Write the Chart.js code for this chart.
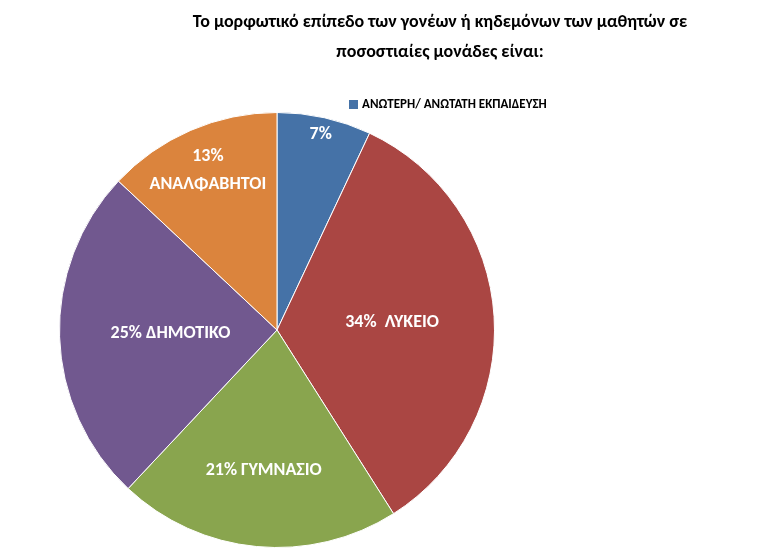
<!DOCTYPE html>
<html>
<head>
<meta charset="utf-8">
<script src="https://cdn.jsdelivr.net/npm/chart.js@4"></script>
<style>
  body { margin: 0; background: #fff; }
  #wrap { width: 781px; height: 550px; }
</style>
</head>
<body>
<div id="wrap"><canvas id="chart"></canvas></div>
<script>
const titleLines = [
  "Το μορφωτικό επίπεδο των γονέων ή κηδεμόνων των μαθητών σε",
  "ποσοστιαίες μονάδες είναι:"
];
const categories = ["ΑΝΩΤΕΡΗ/ ΑΝΩΤΑΤΗ ΕΚΠΑΙΔΕΥΣΗ", "ΛΥΚΕΙΟ", "ΓΥΜΝΑΣΙΟ", "ΔΗΜΟΤΙΚΟ", "ΑΝΑΛΦΑΒΗΤΟΙ"];
const values = [7, 34, 21, 25, 13];
const sliceLabels = [["7%"], ["34%  ΛΥΚΕΙΟ"], ["21% ΓΥΜΝΑΣΙΟ"], ["25% ΔΗΜΟΤΙΚΟ"], ["13%", "ΑΝΑΛΦΑΒΗΤΟΙ"]];
const colors = ["#4572A7", "#AA4643", "#89A54E", "#71588F", "#DB843D"];

// how far out from the centre each label sits (fraction of radius)
const labelRadius = [0.92, 0.53, 0.65, 0.49, 0.8];

const FONT = "Calibri, Carlito, 'Liberation Sans', Arial, sans-serif";

const decorPlugin = {
  id: "decor",
  afterDraw(chart) {
    const ctx = chart.ctx;
    ctx.save();
    ctx.fillStyle = "#000";
    ctx.font = "bold 18px " + FONT;
    ctx.textAlign = "center";
    ctx.textBaseline = "middle";
    ctx.fillText(titleLines[0], 440, 22);
    ctx.fillText(titleLines[1], 440, 52);

    // legend (only first entry shown in the original)
    ctx.fillStyle = colors[0];
    ctx.fillRect(349, 100, 9, 9);
    ctx.fillStyle = "#000";
    ctx.font = "bold 13px " + FONT;
    ctx.textAlign = "left";
    ctx.fillText(categories[0], 362, 105);

    // slice labels
    const arcs = chart.getDatasetMeta(0).data;
    ctx.fillStyle = "#fff";
    ctx.font = "bold 18px " + FONT;
    ctx.textAlign = "center";
    arcs.forEach((arc, i) => {
      const mid = (arc.startAngle + arc.endAngle) / 2;
      const r = arc.outerRadius * labelRadius[i];
      const x = arc.x + Math.cos(mid) * r;
      const y = arc.y + Math.sin(mid) * r;
      const lines = sliceLabels[i];
      lines.forEach((t, j) => {
        ctx.fillText(t, x, y + (j - (lines.length - 1) / 2) * 28);
      });
    });
    ctx.restore();
  }
};

new Chart(document.getElementById("chart"), {
  type: "pie",
  data: {
    labels: categories,
    datasets: [{
      data: values,
      backgroundColor: colors,
      borderColor: "#fff",
      borderWidth: 1
    }]
  },
  options: {
    responsive: true,
    maintainAspectRatio: false,
    animation: false,
    layout: { padding: { top: 112, bottom: 2, left: 59, right: 286 } },
    plugins: {
      legend: { display: false },
      tooltip: { enabled: false }
    }
  },
  plugins: [decorPlugin]
});
</script>
</body>
</html>
